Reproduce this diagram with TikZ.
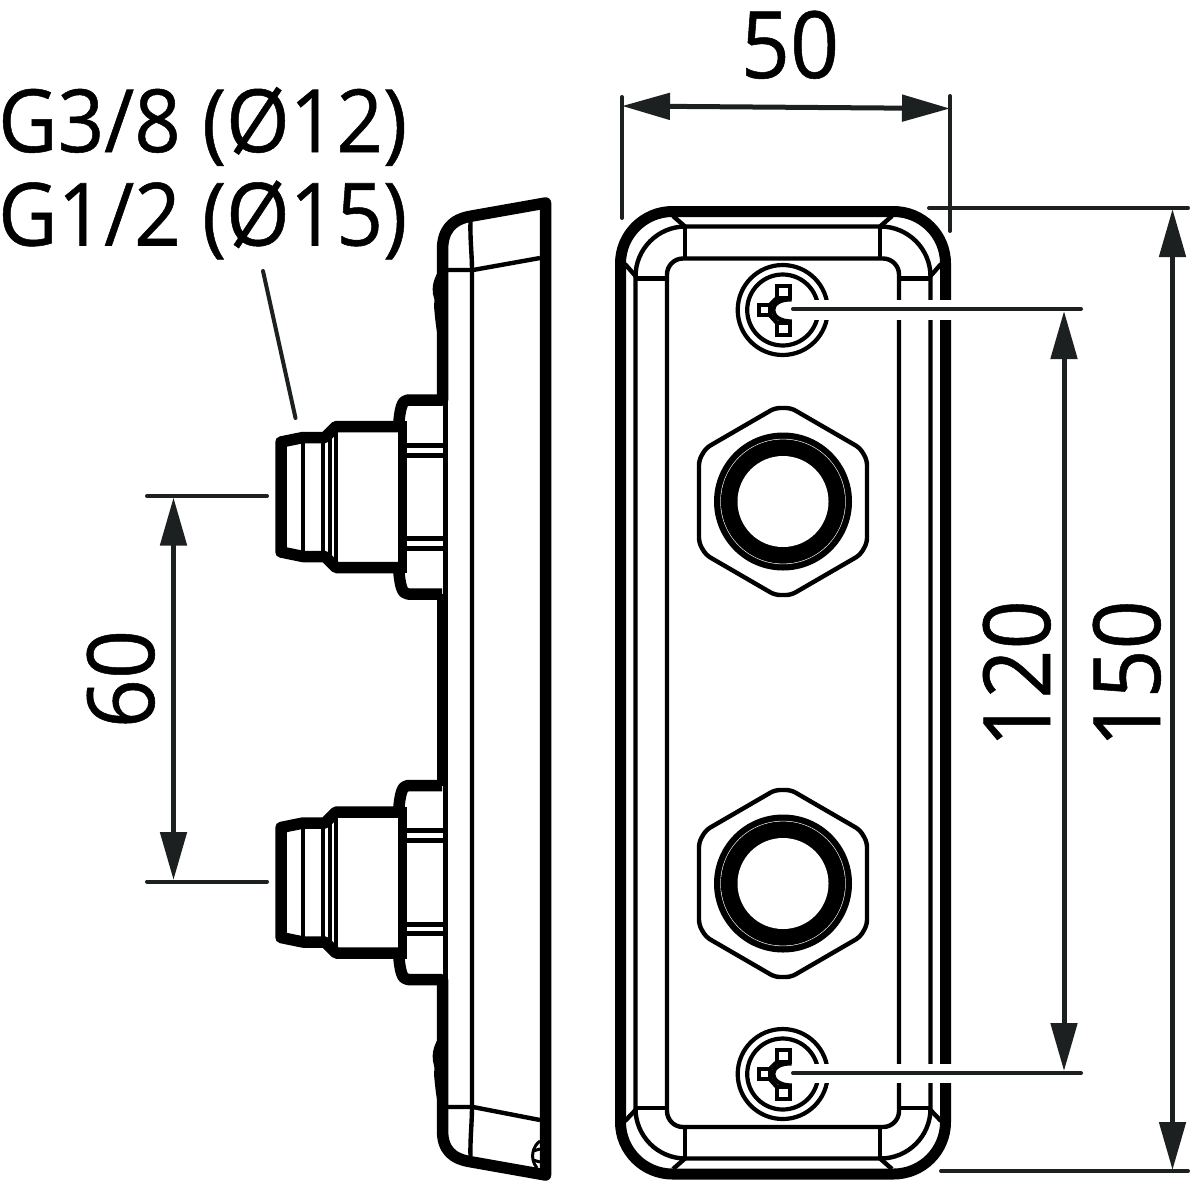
\documentclass[tikz,border=0pt]{standalone}
\usepackage{fontspec}
\setmainfont{Open Sans}
\usetikzlibrary{arrows.meta}
\definecolor{dimc}{HTML}{1D2021}
\tikzset{
  heavy/.style={line width=11.5pt,line join=round,line cap=round,black},
  mid/.style={line width=8.5pt,black},
  thin/.style={line width=4.4pt,black,line join=round},
  extline/.style={line width=4pt,dimc,line cap=round},
  dimline/.style={line width=5pt,dimc,{Triangle[length=48pt,width=26pt]}-{Triangle[length=48pt,width=26pt]}},
  lab/.style={inner sep=0pt,text=black,font=\fontsize{80}{80}\selectfont\addfontfeatures{FakeBold=0.6}},
  numlab/.style={inner sep=0pt,text=black,font=\fontsize{86}{86}\selectfont\addfontfeatures{FakeBold=0.6}}
}
\newcommand{\gtxt}[1]{\scalebox{1.02}[1.09]{#1}}
\newcommand{\ntxt}[1]{\scalebox{1}[1.08]{#1}}
\begin{document}
\begin{tikzpicture}[x=1pt,y=-1pt]
\useasboundingbox (0,0) rectangle (1190,1181);
\fill[white] (0,0) rectangle (1190,1181);

% ---------- side view: plate
\draw[heavy] (442.5,400) -- (442.5,250) .. controls (442.5,230) and (452,219) .. (472,216)
  -- (545.5,203) -- (545.5,1175) -- (472,1162) .. controls (452,1159) and (442.5,1150) .. (442.5,1130) -- (442.5,980);
\draw[heavy,line cap=butt] (442.5,594) -- (442.5,785.5);
\fill[black] (438,272) .. controls (433,280) and (432,288) .. (433,294) -- (434.5,300) -- (434,306) .. controls (435,318) and (436,328) .. (438,337) -- cycle;
\fill[black] (438,1039) .. controls (433,1047) and (432,1055) .. (433,1061) -- (434.5,1068) -- (434,1074) .. controls (435,1086) and (436,1095) .. (438,1104) -- cycle;
\draw[thin] (470.5,222) .. controls (470,240) and (472,255) .. (472,270) -- (472,1107) .. controls (472,1122) and (470,1140) .. (470.5,1156);
\draw[thin] (448,270) -- (473,270) -- (540,258);
\draw[thin] (448,1107) -- (473,1107) -- (540,1120);
\draw[line width=3pt,black] (540,1141) .. controls (533,1146) and (529,1158) .. (537,1168);
\draw[line width=3pt,black] (533,1151) -- (540,1149);
\draw[line width=3pt,black] (533,1160) -- (540,1162);

% ---------- side view: the two connectors
\foreach \dy in {0,385.5}{
\begin{scope}[shift={(0,\dy)}]
  \draw[line width=5.5pt,black] (445.5,400) -- (445.5,594);
  \draw[heavy,line cap=butt] (442,400) -- (408,400) .. controls (402,400) and (400,408) .. (398.5,426.5);
  \draw[heavy,line cap=butt] (442,594) -- (408,594) .. controls (402,594) and (400,586) .. (398.5,567.5);
  \draw[mid] (402.5,421) -- (402.5,573);
  \draw[heavy] (398,426.5) -- (336,426.5) -- (325,437.5) -- (303,437.5) -- (281,442) -- (281,552) -- (303,556.5) -- (325,556.5) -- (336,567.5) -- (398,567.5);
  \draw[line width=4.8pt,black] (303,441) -- (303,553);
  \draw[thin] (323,440) -- (323,554);
  \draw[thin] (330,436) -- (330,558);
  \draw[thin] (336,430) -- (336,564);
  \foreach \yy in {445,455,538.5,548}{ \draw[line width=5pt,black] (405,\yy) -- (444,\yy); }
\end{scope}
}

% ---------- front view: frame
\draw[line width=11pt,black] (620.5,211.5) [rounded corners=52pt] rectangle (945.5,1174);
\draw[thin] (635.5,226.5) [rounded corners=50pt] rectangle (930.5,1158.5);
\draw[thin] (667,258.5) [rounded corners=16pt] rectangle (899,1127);
\draw[thin] (685,226.5) -- (685,258.5);
\draw[thin] (880,226.5) -- (880,258.5);
\draw[thin] (685,1127) -- (685,1158.5);
\draw[thin] (880,1127) -- (880,1158.5);
\draw[thin] (635.5,278.5) -- (667,278.5);
\draw[thin] (899,278.5) -- (930.5,278.5);
\draw[thin] (635.5,1108) -- (667,1108);
\draw[thin] (899,1108) -- (930.5,1108);
\draw[thin] (673,216) -- (685,226.5);
\draw[thin] (892,216) -- (880,226.5);
\draw[thin] (625,264) -- (635.5,276);
\draw[thin] (941,264) -- (930.5,276);
\draw[thin] (673,1169) -- (685,1158.5);
\draw[thin] (892,1169) -- (880,1158.5);
\draw[thin] (625,1121) -- (635.5,1110);
\draw[thin] (941,1121) -- (930.5,1110);

% ---------- front view: hex nuts
\foreach \cy in {501.5,883.5}{
\begin{scope}[shift={(783,\cy)}]
  \draw[thin,rounded corners=5pt] (-8,-93.5) -- (8,-93.5) -- (77,-53.5) -- (84,-41.5) -- (84,41.5) -- (77,53.5) -- (8,93.5) -- (-8,93.5) -- (-77,53.5) -- (-84,41.5) -- (-84,-41.5) -- (-77,-53.5) -- cycle;
  \fill[black] (0,0) circle[radius=69];
  \fill[white] (0,0) circle[radius=62.7];
  \fill[black] (0,0) circle[radius=62.1];
  \fill[white] (0,0) circle[radius=45.5];
\end{scope}
}

% ---------- front view: screws
\foreach \cy in {310,1074}{
\begin{scope}[shift={(782.7,\cy)}]
  \draw[line width=4.2pt,black] (0,0) circle[radius=45];
  \draw[line width=4.2pt,black] (0,0) circle[radius=35.5];
  \draw[line width=4.2pt,black,line join=miter]
     (-5.7,-24) rectangle (7.3,-12)
     (-5.7,13) rectangle (7.3,25)
     (-23.7,-5) rectangle (-13,5);
  \draw[line width=4.2pt,black] (-13,-5) -- (-5.7,-12);
  \draw[line width=4.2pt,black] (-13,5) -- (-5.7,13);
  \draw[line width=4.2pt,black] (9,-10.5) .. controls (-3,-11) and (-9.5,-6) .. (-9.5,0) .. controls (-9.5,6) and (-3,11.5) .. (9,11.5);
\end{scope}
}

% ---------- named end points of the dimensioning
\coordinate (a50l) at (622,106);
\coordinate (a50r) at (950,108.5);
\coordinate (e50lt) at (622,97);
\coordinate (e50lb) at (622,218);
\coordinate (e50rt) at (950,96);
\coordinate (e50rb) at (950,231);
\coordinate (e150ta) at (929,208);
\coordinate (e150tb) at (1188,208);
\coordinate (e150ba) at (941,1171);
\coordinate (e150bb) at (1188,1171);
\coordinate (a150t) at (1172.5,209);
\coordinate (a150b) at (1172.5,1170);
\coordinate (e120ta) at (793,309);
\coordinate (e120tb) at (1081,309);
\coordinate (e120ba) at (793,1073);
\coordinate (e120bb) at (1081,1073);
\coordinate (a120t) at (1064,311);
\coordinate (a120b) at (1064,1071);
\coordinate (e60ta) at (147,496);
\coordinate (e60tb) at (267,496);
\coordinate (e60ba) at (147,881.5);
\coordinate (e60bb) at (267,881.5);
\coordinate (a60t) at (173.5,497.5);
\coordinate (a60b) at (173.5,880);
\coordinate (leadt) at (263,271);
\coordinate (leadb) at (295.5,418);

% white gaps in the frame behind the 120 lines
\fill[white] (793,300) rectangle (953,319.5);
\fill[white] (793,1063.5) rectangle (953,1083);

\draw[extline] (e50lt) -- (e50lb);
\draw[extline] (e50rt) -- (e50rb);
\draw[dimline] (a50l) -- (a50r);
\draw[extline] (e150ta) -- (e150tb);
\draw[extline] (e150ba) -- (e150bb);
\draw[dimline] (a150t) -- (a150b);
\draw[extline] (e120ta) -- (e120tb);
\draw[extline] (e120ba) -- (e120bb);
\draw[dimline] (a120t) -- (a120b);
\draw[extline] (e60ta) -- (e60tb);
\draw[extline] (e60ba) -- (e60bb);
\draw[dimline] (a60t) -- (a60b);
\draw[extline] (leadt) -- (leadb);

% ---------- labels
\node[numlab,anchor=base] (t50) at (790,78) {\ntxt{50}};
\node[lab,anchor=base west] (tg38) at (-2,152) {\gtxt{G3/8 (Ø12)}};
\node[lab,anchor=base west] (tg12) at (-2,245.5) {\gtxt{G1/2 (Ø15)}};
\node[numlab,anchor=base,rotate=90] (t60) at (154,679) {\ntxt{60}};
\node[numlab,anchor=base,rotate=90] (t120) at (1050,674) {\ntxt{120}};
\node[numlab,anchor=base,rotate=90] (t150) at (1160,674) {\ntxt{150}};
\end{tikzpicture}
\end{document}
